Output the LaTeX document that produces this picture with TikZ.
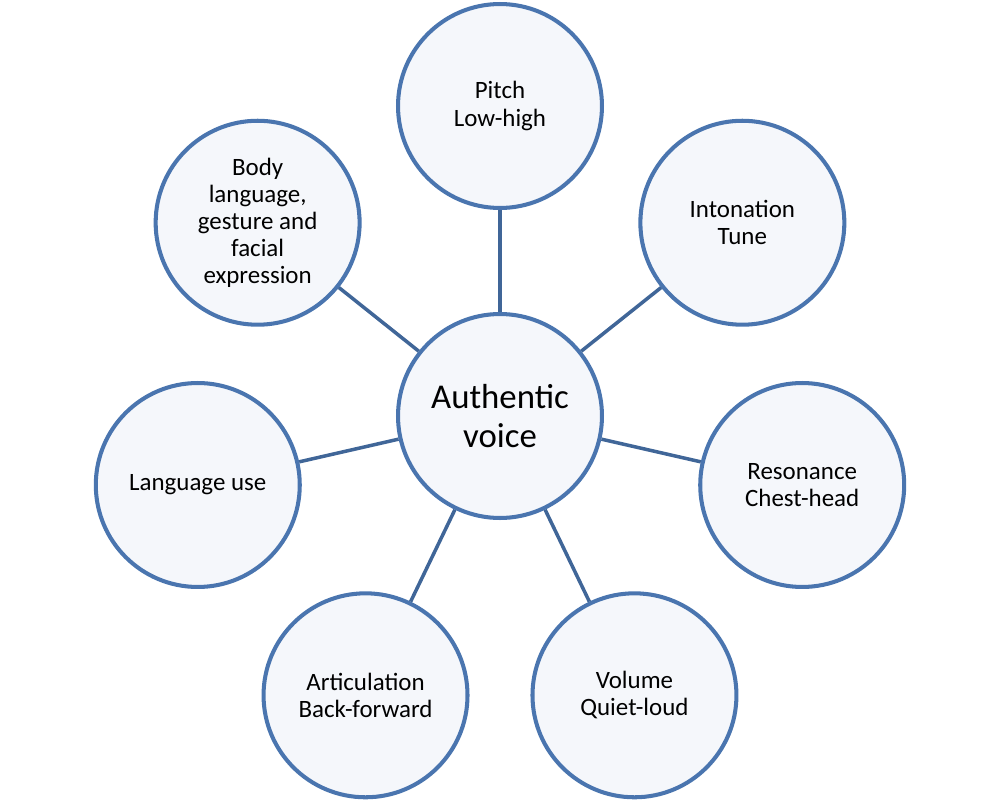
\documentclass[tikz,border=0pt]{standalone}
\usepackage{fontspec}
\setmainfont{Carlito}
\usepackage{tikz}
\definecolor{ringcol}{RGB}{74,117,175}
\definecolor{linkcol}{RGB}{64,102,152}
\definecolor{discfill}{RGB}{245,247,251}

\begin{document}
\begin{tikzpicture}[x=0.02cm, y=0.02cm,
    every node/.style={font=\fontsize{14.2}{15.4}\selectfont},
    disc/.style={circle, draw=ringcol, fill=discfill, line width=2.3pt,
      minimum size=4.08cm, inner sep=0pt, align=center}]

    %% Page frame (1000 x 802)
    \useasboundingbox (-500,-386) rectangle (500,416);

    %% Centre disc
    \node[disc, font=\fontsize{19.8}{22.5}\selectfont] (voice) at (0,0)
      {Authentic\\voice};

    %% Outer discs, seven round the centre
    \foreach \ang/\name/\txt in {
        90/pitch/{Pitch\\Low-high},
        38.57/inton/{Intonation\\Tune},
        -12.86/reson/{Resonance\\Chest-head},
        -64.29/volume/{Volume\\Quiet-loud},
        -115.71/artic/{Articulation\\Back-forward},
        -167.14/lang/{Language use},
        141.43/body/{Body\\language,\\gesture and\\facial\\expression}} {
      \node[disc] (\name) at (\ang:310) {\txt};
      \draw[linkcol, line width=2pt] (voice) -- (\name);
    }

\end{tikzpicture}
\end{document}
